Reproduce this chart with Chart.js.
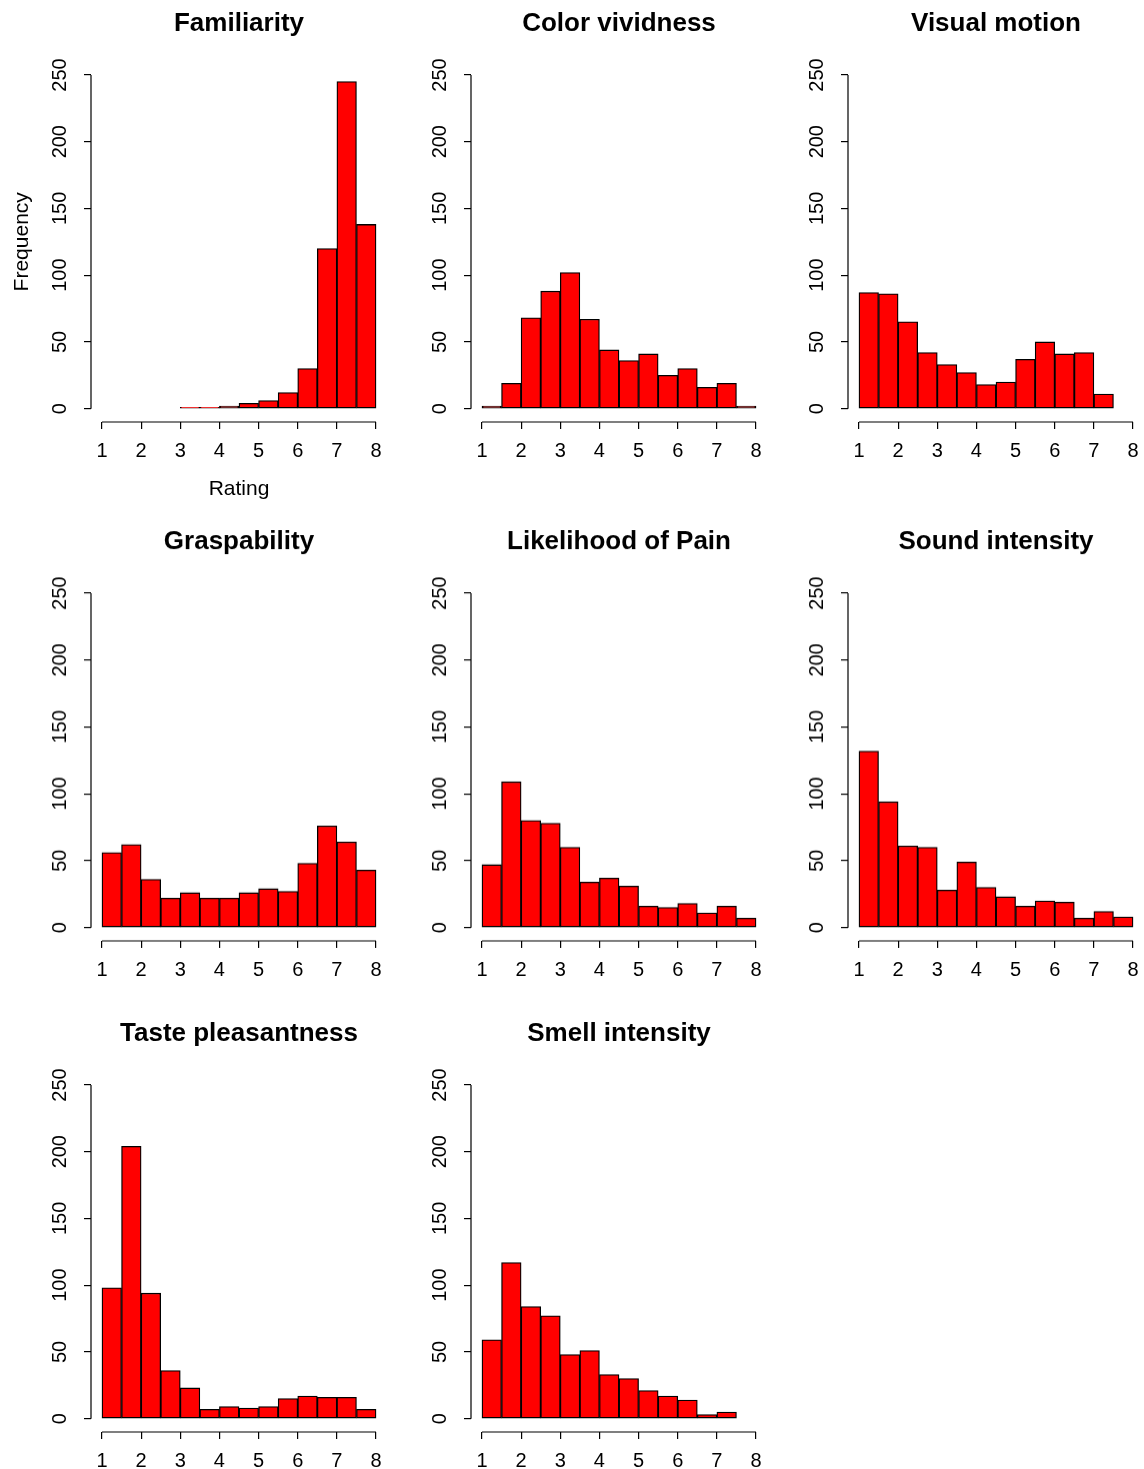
<!DOCTYPE html>
<html>
<head>
<meta charset="utf-8">
<script src="https://cdn.jsdelivr.net/npm/chart.js@4.4.0/dist/chart.umd.min.js"></script>
<style>
  html, body { margin: 0; padding: 0; background: #ffffff; }
  #page { position: relative; width: 1144px; height: 1469px; overflow: hidden; background: #ffffff; }
  #page canvas { position: absolute; }
</style>
</head>
<body>
<div id="page"></div>
<script>
// ---- Data ----
const categories = ['Familiarity', 'Color vividness', 'Visual motion',
                    'Graspability', 'Likelihood of Pain', 'Sound intensity',
                    'Taste pleasantness', 'Smell intensity'];
const binCenters = [1.25, 1.75, 2.25, 2.75, 3.25, 3.75, 4.25, 4.75, 5.25, 5.75, 6.25, 6.75, 7.25, 7.75];
const familiarity       = [0, 0, 0, 0, 1, 1, 2, 4, 6, 12, 30, 120, 245, 138];
const colorVividness    = [2, 19, 68, 88, 102, 67, 44, 36, 41, 25, 30, 16, 19, 2];
const visualMotion      = [87, 86, 65, 42, 33, 27, 18, 20, 37, 50, 41, 42, 11, 0];
const graspability      = [56, 62, 36, 22, 26, 22, 22, 26, 29, 27, 48, 76, 64, 43];
const likelihoodOfPain  = [47, 109, 80, 78, 60, 34, 37, 31, 16, 15, 18, 11, 16, 7];
const soundIntensity    = [132, 94, 61, 60, 28, 49, 30, 23, 16, 20, 19, 7, 12, 8];
const tastePleasantness = [98, 204, 94, 36, 23, 7, 9, 8, 9, 15, 17, 16, 16, 7];
const smellIntensity    = [59, 117, 84, 77, 48, 51, 33, 30, 21, 17, 14, 3, 5, 0];
const seriesValues = [familiarity, colorVividness, visualMotion, graspability,
                      likelihoodOfPain, soundIntensity, tastePleasantness, smellIntensity];
const xTickLabels = [1, 2, 3, 4, 5, 6, 7, 8];
const yTickLabels = [0, 50, 100, 150, 200, 250];
const xAxisTitle = 'Rating';
const yAxisTitle = 'Frequency';

// ---- Layout ----
const FONT = '"Liberation Sans", Arial, Helvetica, sans-serif';
const colLefts = [0, 380, 757.4];
const rowTops = [0, 518.3, 1010.1];
const CANVAS_W = 387;
const Y_AXIS_W = 91;
const TITLE_BLOCK = 61.6;
const PLOT_H = 360.8;

const axisLinePlugin = {
  id: 'rAxisLines',
  afterDraw(chart) {
    const ctx = chart.ctx;
    const xs = chart.scales.x, ys = chart.scales.y;
    const area = chart.chartArea;
    ctx.save();
    ctx.strokeStyle = '#000000';
    ctx.lineWidth = 1.2;
    ctx.beginPath();
    const x0 = xs.getPixelForValue(xs.ticks[0].value);
    const x1 = xs.getPixelForValue(xs.ticks[xs.ticks.length - 1].value);
    ctx.moveTo(x0, area.bottom);
    ctx.lineTo(x1, area.bottom);
    const y0 = ys.getPixelForValue(ys.ticks[0].value);
    const y1 = ys.getPixelForValue(ys.ticks[ys.ticks.length - 1].value);
    ctx.moveTo(area.left, y0);
    ctx.lineTo(area.left, y1);
    ctx.stroke();
    ctx.restore();
  }
};

const page = document.getElementById('page');

categories.forEach((name, i) => {
  const row = Math.floor(i / 3), col = i % 3;
  const showLabels = (i === 0);
  const xAxisH = showLabels ? 80 : 40;
  const canvasH = TITLE_BLOCK + PLOT_H + xAxisH;

  const canvas = document.createElement('canvas');
  canvas.style.left = colLefts[col] + 'px';
  canvas.style.top = rowTops[row] + 'px';
  canvas.style.width = CANVAS_W + 'px';
  canvas.style.height = canvasH + 'px';
  canvas.width = CANVAS_W;
  canvas.height = Math.round(canvasH);
  page.appendChild(canvas);

  const values = seriesValues[i];
  const points = binCenters.map((c, k) => ({ x: c, y: values[k] }));

  new Chart(canvas, {
    type: 'bar',
    data: {
      datasets: [{
        data: points,
        backgroundColor: '#ff0000',
        borderColor: '#000000',
        borderWidth: 1.3,
        borderSkipped: false,
        barPercentage: 1.0,
        categoryPercentage: 1.0
      }]
    },
    options: {
      responsive: false,
      animation: false,
      devicePixelRatio: 1,
      layout: { padding: 0 },
      plugins: {
        legend: { display: false },
        tooltip: { enabled: false },
        title: {
          display: true,
          text: name,
          fullSize: false,
          color: '#000000',
          font: { family: FONT, size: 26, weight: 'bold', lineHeight: 1.2 },
          padding: { top: 8.2, bottom: 22.2 }
        }
      },
      scales: {
        x: {
          type: 'linear',
          min: 0.72,
          max: 8.28,
          offset: false,
          afterBuildTicks: (s) => { s.ticks = xTickLabels.map(v => ({ value: v })); },
          afterFit: (s) => {
            s.height = xAxisH;
            s.paddingLeft = 0; s.paddingRight = 0; s.paddingTop = 0; s.paddingBottom = 0;
          },
          grid: {
            display: true, offset: false, drawOnChartArea: false, drawTicks: true,
            tickLength: 7, color: '#000000', lineWidth: 1.2
          },
          border: { display: false },
          ticks: {
            color: '#000000', padding: 10.6, maxRotation: 0, minRotation: 0,
            autoSkip: false,
            font: { family: FONT, size: 20, lineHeight: 1.2 },
            callback: (v) => String(v)
          },
          title: {
            display: showLabels, text: xAxisTitle, color: '#000000',
            font: { family: FONT, size: 21, lineHeight: 1.2 },
            padding: { top: 0, bottom: 0 }
          }
        },
        y: {
          type: 'linear',
          min: -10,
          max: 260,
          afterBuildTicks: (s) => { s.ticks = yTickLabels.map(v => ({ value: v })); },
          afterFit: (s) => {
            s.width = Y_AXIS_W;
            s.paddingLeft = 0; s.paddingRight = 0; s.paddingTop = 0; s.paddingBottom = 0;
          },
          grid: {
            display: true, drawOnChartArea: false, drawTicks: true,
            tickLength: 7, color: '#000000', lineWidth: 1.2
          },
          border: { display: false },
          ticks: {
            color: '#000000', padding: 7.3, minRotation: 90, maxRotation: 90,
            crossAlign: 'center', autoSkip: false,
            font: { family: FONT, size: 20, lineHeight: 1.2 },
            callback: (v) => String(v)
          },
          title: {
            display: showLabels, text: yAxisTitle, color: '#000000',
            font: { family: FONT, size: 21, lineHeight: 1.2 },
            padding: { top: 10, bottom: 0 }
          }
        }
      }
    },
    plugins: [axisLinePlugin]
  });
});
</script>
</body>
</html>
